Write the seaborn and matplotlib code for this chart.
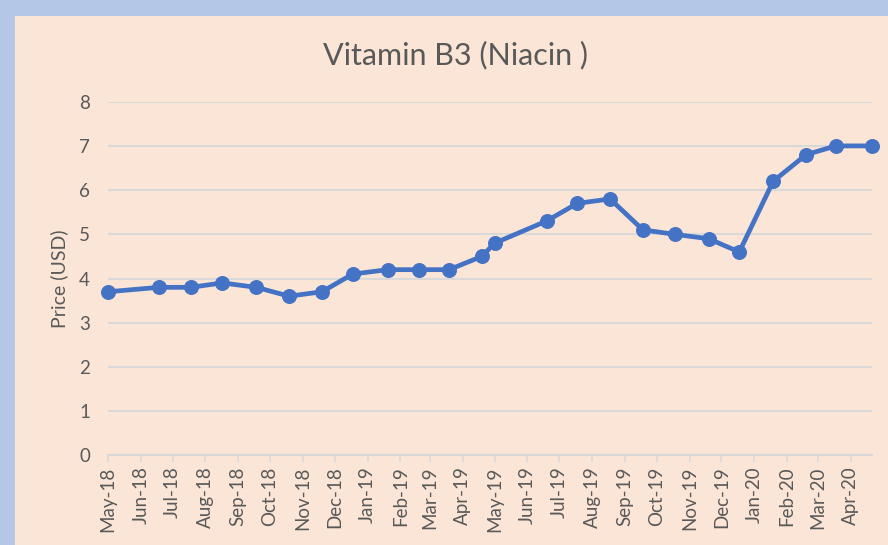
import pandas as pd
import seaborn as sns
import matplotlib.pyplot as plt
import matplotlib.dates as mdates
from matplotlib.patches import Rectangle

# data
dates = ['2018-05-01', '2018-06-18', '2018-07-18', '2018-08-17', '2018-09-18',
         '2018-10-19', '2018-11-19', '2018-12-18', '2019-01-20', '2019-02-19',
         '2019-03-19', '2019-04-19', '2019-05-01', '2019-06-19', '2019-07-18',
         '2019-08-18', '2019-09-18', '2019-10-18', '2019-11-19', '2019-12-18',
         '2020-01-19', '2020-02-19', '2020-03-18', '2020-04-21']
prices = [3.7, 3.8, 3.8, 3.9, 3.8, 3.6, 3.7, 4.1, 4.2, 4.2,
          4.2, 4.5, 4.8, 5.3, 5.7, 5.8, 5.1, 5.0, 4.9, 4.6,
          6.2, 6.8, 7.0, 7.0]

df = pd.DataFrame({'date': pd.to_datetime(dates), 'price': prices})

bg = '#FBE5D6'
txt = '#595959'
grid = '#D9D9D9'

sns.set_theme(style='white')
plt.rcParams['font.family'] = ['Lato', 'DejaVu Sans']

fig = plt.figure(figsize=(8.88, 5.45), dpi=100)
fig.patch.set_facecolor(bg)

# light blue frame at top and left, like the source screenshot
fig.patches.append(Rectangle((0, 1 - 16 / 545), 1, 16 / 545, transform=fig.transFigure,
                             facecolor='#B4C7E7', edgecolor='none', zorder=0))
fig.patches.append(Rectangle((0, 0), 15 / 888, 1, transform=fig.transFigure,
                             facecolor='#B4C7E7', edgecolor='none', zorder=0))

ax = fig.add_axes([108 / 888, 1 - 455.3 / 545, (871.7 - 108) / 888, (455.3 - 101.7) / 545])
ax.set_facecolor(bg)

sns.lineplot(data=df, x='date', y='price', ax=ax, color='#4472C4', linewidth=3.4,
             marker='o', markersize=10, markeredgecolor='#4472C4', clip_on=False, zorder=3)

ax.set_ylim(0, 8)
ax.set_yticks(range(0, 9))
ax.set_xlim(pd.Timestamp('2018-05-01'), pd.Timestamp('2020-04-21'))
ax.xaxis.set_major_locator(mdates.MonthLocator())
ax.xaxis.set_major_formatter(mdates.DateFormatter('%b-%y'))

ax.yaxis.grid(True, color=grid, linewidth=1.5)
ax.set_axisbelow(True)
for s in ['top', 'right', 'left']:
    ax.spines[s].set_visible(False)
ax.spines['bottom'].set_color(grid)
ax.spines['bottom'].set_linewidth(1.5)

ax.tick_params(axis='x', which='major', rotation=90, labelsize=13.5, labelcolor=txt,
               bottom=True, length=5, width=1.2, color=grid, pad=3, direction='out')
ax.tick_params(axis='y', labelsize=13.5, labelcolor=txt, left=False, pad=7)

ax.set_xlabel('')
ax.set_ylabel('Price (USD)', fontsize=14, color=txt, labelpad=8)
fig.text(455 / 888, 1 - 55 / 545, 'Vitamin B3 (Niacin )', ha='center', va='center',
         fontsize=22, color=txt)

fig.savefig('out.png', dpi=100, facecolor=bg)
